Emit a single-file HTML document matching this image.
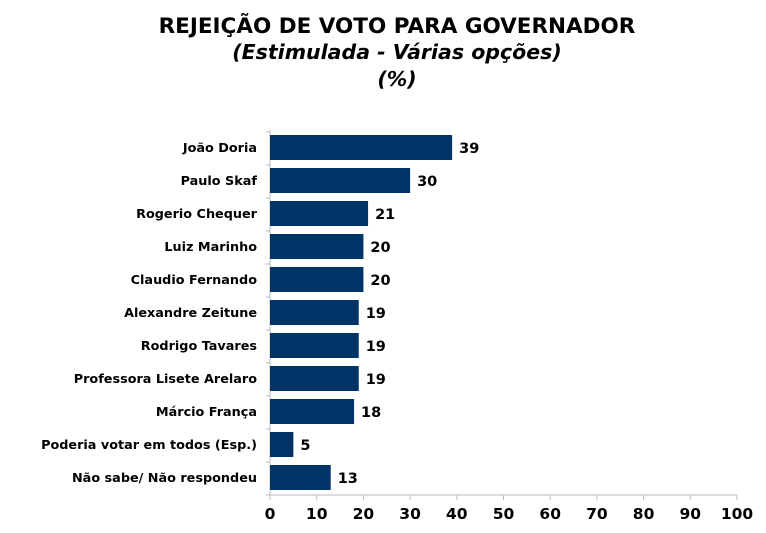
<!DOCTYPE html>
<html><head><meta charset="utf-8"><style>
body{margin:0;background:#fff;width:766px;height:528px;overflow:hidden}
svg{font-family:"DejaVu Sans","Liberation Sans",sans-serif;font-weight:bold}
</style></head><body>
<svg width="766" height="528">
<text x="397" y="33" text-anchor="middle" font-size="21.5" fill="#000">REJEIÇÃO DE VOTO PARA GOVERNADOR</text>
<text x="397" y="59" text-anchor="middle" font-size="20.5" font-style="italic" fill="#000">(Estimulada - Várias opções)</text>
<text x="397" y="86" text-anchor="middle" font-size="20.5" font-style="italic" fill="#000">(%)</text>
<g id="plot"></g>
</svg>
<script>
const categories=["João Doria","Paulo Skaf","Rogerio Chequer","Luiz Marinho","Claudio Fernando","Alexandre Zeitune","Rodrigo Tavares","Professora Lisete Arelaro","Márcio França","Poderia votar em todos (Esp.)","Não sabe/ Não respondeu"];
const values=[39,30,21,20,20,19,19,19,18,5,13];
const ticks=[0,10,20,30,40,50,60,70,80,90,100];
const x0=270,x1=737,yTop=130,step=33,barH=25;
const xs=v=>x0+(v/100)*(x1-x0);
const g=document.getElementById('plot');
const NS="http://www.w3.org/2000/svg";
function mk(t,a){const e=document.createElementNS(NS,t);for(const k in a)e.setAttribute(k,a[k]);g.appendChild(e);return e;}
const yBottom=yTop+step*categories.length+2;
let ax=mk('line',{x1:x0,y1:yTop,x2:x0,y2:yBottom,stroke:'#bbb','stroke-width':1});


let bx=mk('line',{x1:x0,y1:yBottom,x2:x1,y2:yBottom,stroke:'#bbb','stroke-width':1});


for(let i=0;i<=categories.length;i++){
 const t=mk('line',{x1:x0-4,y1:yTop+2+i*step,x2:x0,y2:yTop+2+i*step,stroke:'#bbb'});
 
 
}
ticks.forEach(v=>{
 const t=mk('line',{x1:xs(v),y1:yBottom,x2:xs(v),y2:yBottom+5,stroke:'#bbb'});
 
 
 const l=mk('text',{x:xs(v),y:519,'text-anchor':'middle','font-size':15.5,fill:'#000'});
 l.textContent=v;
 
 
});
categories.forEach((c,i)=>{
 const y=yTop+5+i*step;
 const r=mk('rect',{x:x0,y:y,width:xs(values[i])-x0,height:barH,fill:'#003366'});
 
 
 const l=mk('text',{x:257,y:y+17,'text-anchor':'end','font-size':12.8,fill:'#000'});
 l.textContent=c;
 
 
 const v=mk('text',{x:xs(values[i])+7,y:y+18,'font-size':14.5,fill:'#000'});
 v.textContent=values[i];
 
 
});
</script>
</body></html>
